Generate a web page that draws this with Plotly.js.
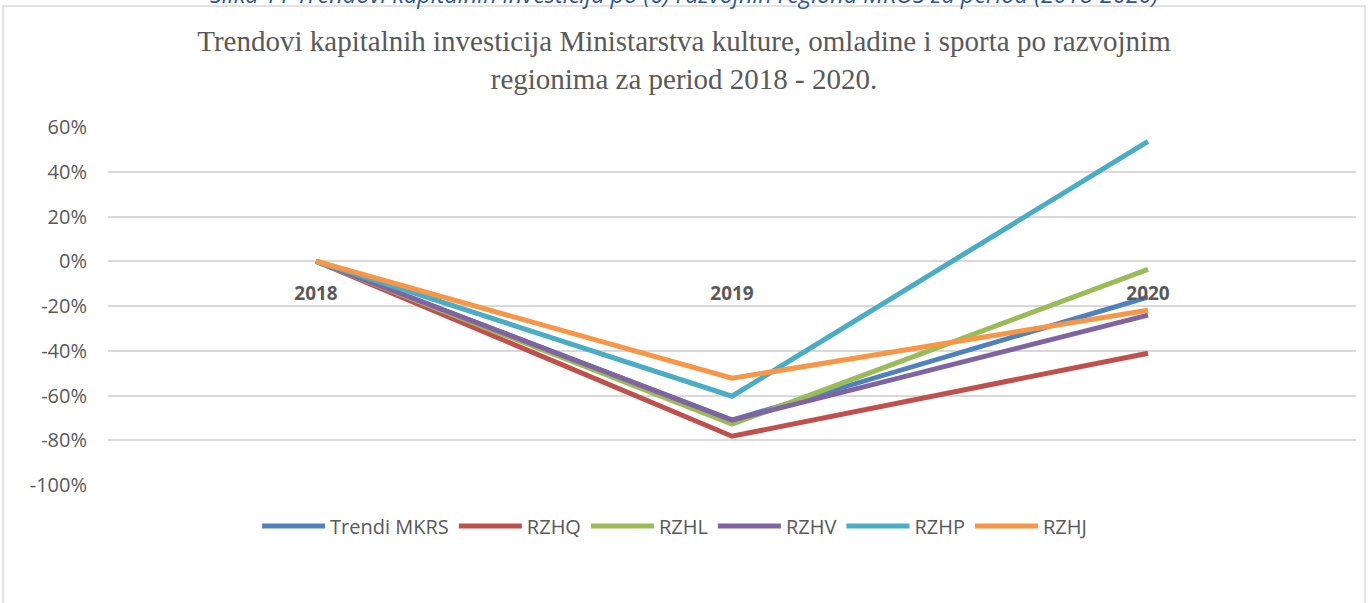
<!DOCTYPE html>
<html>
<head>
<meta charset="utf-8">
<script src="https://cdn.plot.ly/plotly-3.0.1.min.js"></script>
<style>
  html, body { margin: 0; padding: 0; background: #fff; }
  #plot { width: 1368px; height: 603px; }
</style>
</head>
<body>
<div id="plot"></div>
<script>
// years on the category axis
let years = ["2018", "2019", "2020"];

// change vs 2018 (fractions)
let trendiMKRS = [0, -0.71, -0.16];
let rzhq = [0, -0.782, -0.411];
let rzhl = [0, -0.728, -0.036];
let rzhv = [0, -0.71, -0.241];
let rzhp = [0, -0.603, 0.536];
let rzhj = [0, -0.523, -0.219];

// y tick labels (hyphen minus like the original)
let yTickVals = [0.6, 0.4, 0.2, 0, -0.2, -0.4, -0.6, -0.8, -1];
let yTickText = ["60%", "40%", "20%", "0%", "-20%", "-40%", "-60%", "-80%", "-100%"];

let names = ["Trendi MKRS", "RZHQ", "RZHL", "RZHV", "RZHP", "RZHJ"];
let colors = ["#4F81BD", "#C0504D", "#9BBB59", "#8064A2", "#4BACC6", "#F79646"];
let series = [trendiMKRS, rzhq, rzhl, rzhv, rzhp, rzhj];

let data = series.map((vals, i) => ({
  x: years,
  y: vals,
  name: names[i],
  type: "scatter",
  mode: "lines",
  line: { color: colors[i], width: 5 }
}));

let layout = {
  width: 1368,
  height: 603,
  paper_bgcolor: "#fff",
  plot_bgcolor: "#fff",
  margin: { l: 108, r: 12, t: 127, b: 118 },
  title: {
    text: "Trendovi kapitalnih investicija Ministarstva kulture, omladine i sporta po razvojnim<br>regionima za period 2018 - 2020.",
    font: { family: "Liberation Serif, serif", size: 29, color: "#595959" },
    x: 0.5,
    xanchor: "center",
    y: 0.915,
    yanchor: "middle"
  },
  xaxis: {
    type: "category",
    range: [-0.5, 2.5],
    anchor: "free",
    position: 0.625,
    showgrid: false,
    zeroline: false,
    showline: false,
    ticks: "",
    ticklabelstandoff: 19,
    tickfont: { family: "Open Sans, sans-serif", size: 19, color: "#595959", weight: "bold" }
  },
  yaxis: {
    range: [-1, 0.6],
    tickvals: yTickVals,
    ticktext: yTickText,
    showgrid: true,
    gridcolor: "#d9d9d9",
    gridwidth: 1.5,
    zeroline: false,
    showline: false,
    ticklabelstandoff: 20,
    tickfont: { family: "Open Sans, sans-serif", size: 20, color: "#595959" }
  },
  showlegend: true,
  legend: {
    orientation: "h",
    x: 0.454,
    xanchor: "center",
    y: -0.06,
    yanchor: "top",
    font: { family: "Open Sans, sans-serif", size: 20, color: "#595959" },
    itemwidth: 63
  },
  shapes: [
    {
      type: "rect",
      xref: "paper", yref: "paper",
      x0: -0.0841, x1: 1.0072,
      y0: -0.5, y1: 1.338,
      line: { color: "#d9d9d9", width: 1.5 },
      fillcolor: "rgba(0,0,0,0)",
      layer: "below"
    }
  ],
  annotations: [
    {
      text: "<i>Slika 11 Trendovi kapitalnih investicija po (6) razvojnih regiona MKOS za period (2018-2020)</i>",
      xref: "paper", yref: "paper",
      x: 0.462, y: 1.372,
      xanchor: "center", yanchor: "middle",
      showarrow: false,
      font: { family: "Open Sans, sans-serif", size: 23.5, color: "#2F5597" }
    }
  ]
};

Plotly.newPlot("plot", data, layout, { displayModeBar: false });
</script>
</body>
</html>
